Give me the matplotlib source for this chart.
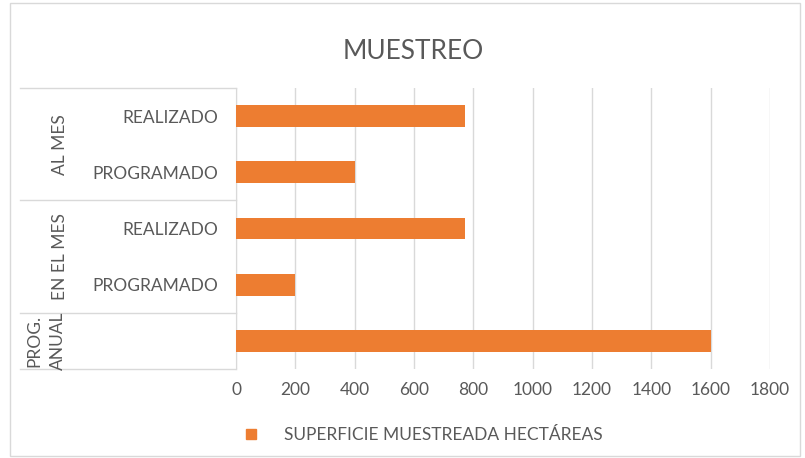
import matplotlib.pyplot as plt
from matplotlib.patches import Rectangle
from matplotlib.lines import Line2D

plt.rcParams["font.family"] = ["Lato", "DejaVu Sans"]

# data, bottom to top
categories = ["", "PROGRAMADO", "REALIZADO", "PROGRAMADO", "REALIZADO"]
groups = ["PROG.\nANUAL", "EN EL MES", "AL MES"]
group_spans = [(0, 0), (1, 2), (3, 4)]
values = [1600, 200, 772, 400, 772]
series_name = "SUPERFICIE MUESTREADA HECTÁREAS"

orange = "#ED7D31"
text_gray = "#595959"
grid_gray = "#D9D9D9"

fig = plt.figure(figsize=(8.05, 4.58), dpi=100)
fig.patches.append(Rectangle((0.012, 0.004), 0.982, 0.99, transform=fig.transFigure,
                             fill=False, edgecolor=grid_gray, linewidth=1))
ax = fig.add_axes([0.2932, 0.1943, 0.6633, 0.6136])

y = range(len(values))
ax.barh(y, values, height=0.39, color=orange, zorder=3)

ax.set_xlim(0, 1800)
ax.set_ylim(-0.5, len(values) - 0.5)
ax.set_xticks(range(0, 1801, 200))
ax.tick_params(axis="x", length=0, labelsize=12.5, colors=text_gray, pad=9)
ax.grid(axis="x", color=grid_gray, linewidth=1, zorder=0)

ax.set_yticks(list(y))
ax.set_yticklabels(categories)
ax.tick_params(axis="y", length=0, labelsize=12.5, colors=text_gray, pad=13)

for side in ["top", "right", "bottom"]:
    ax.spines[side].set_visible(False)
ax.spines["left"].set_color(grid_gray)

# group separator lines and group labels
x_left = -0.405
for b in [-0.5, 0.5, 2.5, 4.5]:
    yy = (b + 0.5) / len(values)
    ax.add_line(Line2D([x_left, 0], [yy, yy], transform=ax.transAxes,
                       color=grid_gray, linewidth=1, clip_on=False))
for name, (lo, hi) in zip(groups, group_spans):
    yc = ((lo + hi) / 2 + 0.5) / len(values)
    lines = name.split("\n")
    if len(lines) == 1:
        xs = [-0.33]
    else:
        xs = [-0.377, -0.334]
    for xx, part in zip(xs, lines):
        ax.text(xx, yc, part, transform=ax.transAxes, rotation=90,
                ha="center", va="center", fontsize=12.5, color=text_gray)

fig.suptitle("MUESTREO", x=0.513, y=0.915, fontsize=19, color=text_gray)

handle = Line2D([], [], marker="s", linestyle="", color=orange, markersize=7.5)
fig.legend([handle], [series_name], loc="center", bbox_to_anchor=(0.52, 0.05),
           frameon=False, fontsize=12.5, labelcolor=text_gray, handletextpad=0.9)

fig.savefig("out.png", dpi=100)
